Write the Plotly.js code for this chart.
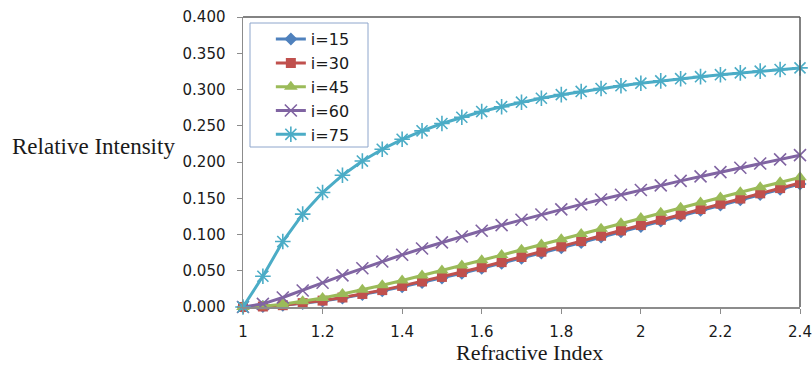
<!DOCTYPE html>
<html>
<head>
<meta charset="utf-8">
<script src="https://cdn.plot.ly/plotly-3.0.1.min.js"></script>
<style>html,body{margin:0;padding:0;background:#fff;}#chart{width:812px;height:365px;}</style>
</head>
<body>
<div id="chart"></div>
<script>
const refractiveIndex = [1.00,1.05,1.10,1.15,1.20,1.25,1.30,1.35,1.40,1.45,1.50,1.55,1.60,1.65,1.70,1.75,1.80,1.85,1.90,1.95,2.00,2.05,2.10,2.15,2.20,2.25,2.30,2.35,2.40];
const seriesNames = ["i=15","i=30","i=45","i=60","i=75"];
const i15 = [0,0.0006,0.0023,0.0049,0.0083,0.0124,0.0171,0.0223,0.0279,0.0338,0.0401,0.0466,0.0533,0.0602,0.0673,0.0745,0.0817,0.0890,0.0964,0.1038,0.1112,0.1186,0.1260,0.1334,0.1407,0.1480,0.1553,0.1625,0.1696];
const i30 = [0,0.0007,0.0025,0.0053,0.0088,0.0131,0.0180,0.0233,0.0291,0.0352,0.0415,0.0482,0.0549,0.0619,0.0690,0.0763,0.0836,0.0909,0.0983,0.1056,0.1130,0.1203,0.1277,0.1351,0.1424,0.1496,0.1568,0.1640,0.1711];
const i45 = [0,0.0011,0.0039,0.0078,0.0125,0.0180,0.0238,0.0300,0.0366,0.0433,0.0502,0.0573,0.0644,0.0716,0.0789,0.0862,0.0935,0.1008,0.1081,0.1154,0.1227,0.1299,0.1370,0.1441,0.1512,0.1582,0.1651,0.1720,0.1788];
const i60 = [0,0.0044,0.0131,0.0228,0.0334,0.0436,0.0534,0.0628,0.0720,0.0807,0.0892,0.0973,0.1052,0.1129,0.1203,0.1276,0.1346,0.1415,0.1483,0.1549,0.1614,0.1677,0.1740,0.1801,0.1861,0.1921,0.1979,0.2037,0.2094];
const i75 = [0,0.0424,0.0903,0.1281,0.1579,0.1818,0.2013,0.2176,0.2313,0.2430,0.2531,0.2617,0.2696,0.2763,0.2825,0.2879,0.2929,0.2973,0.3014,0.3052,0.3087,0.3119,0.3149,0.3177,0.3204,0.3229,0.3253,0.3276,0.3298];
const xTickVals = [1,1.2,1.4,1.6,1.8,2,2.2,2.4];
const xTickText = ["1","1.2","1.4","1.6","1.8","2","2.2","2.4"];
const yTickVals = [0,0.05,0.1,0.15,0.2,0.25,0.3,0.35,0.4];
const yTickText = ["0.000","0.050","0.100","0.150","0.200","0.250","0.300","0.350","0.400"];

const colors = ["#4F81BD","#C0504D","#9BBB59","#8064A2","#4BACC6"];
const symbols = ["diamond","square","triangle-up","x-thin-open","asterisk-open"];
const sizes = [10,10,12,12,13];
const data = [i15,i30,i45,i60,i75];

const traces = data.map((ys, k) => ({
  x: refractiveIndex, y: ys, name: seriesNames[k], type: 'scatter', mode: 'lines+markers',
  legendgroup: 'g'+k, cliponaxis: false,
  line: {color: colors[k], width: 3},
  marker: {symbol: symbols[k], size: sizes[k], color: colors[k],
           line: {color: colors[k], width: (k >= 3 ? 1.6 : 0)}}
}));

const tickFont = {family: '"DejaVu Sans", sans-serif', size: 15, color: '#1a1a1a'};
const layout = {
  width: 812, height: 365,
  margin: {l: 243, r: 12, t: 17, b: 58},
  paper_bgcolor: '#fff', plot_bgcolor: '#fff',
  showlegend: true,
  legend: {x: 0.050, y: 0.982, xanchor: 'left', yanchor: 'top',
    bgcolor: 'rgba(0,0,0,0)', borderwidth: 0,
    font: {family: '"DejaVu Sans", sans-serif', size: 16, color: '#1a1a1a'},
    traceorder: 'grouped', tracegroupgap: 0},
  xaxis: {range: [1, 2.4], tickvals: xTickVals, ticktext: xTickText,
    showgrid: false, zeroline: false, showline: true, linecolor: '#8c8c8c', linewidth: 1.5,
    ticks: 'outside', ticklen: 5, tickcolor: '#8c8c8c', tickfont: tickFont, ticklabelstandoff: 5},
  yaxis: {range: [0, 0.4], tickvals: yTickVals, ticktext: yTickText,
    showgrid: false, zeroline: false, showline: true, linecolor: '#8c8c8c', linewidth: 1.5,
    ticks: 'outside', ticklen: 5, tickcolor: '#8c8c8c', tickfont: tickFont, ticklabelstandoff: 8},
  shapes: [
    {type: 'line', xref: 'paper', yref: 'paper', x0: 0, x1: 1, y0: 1, y1: 1, line: {color: '#5a5a5a', width: 1.5}},
    {type: 'line', xref: 'paper', yref: 'paper', x0: 1, x1: 1, y0: 0, y1: 1, line: {color: '#5a5a5a', width: 1.5}},
    {type: 'rect', xref: 'paper', yref: 'paper', layer: 'above',
     x0: (250-243)/557, x1: (368-243)/557, y0: (307-147)/290, y1: (307-23)/290,
     fillcolor: '#fff', line: {color: '#8EA6CC', width: 1}}
  ],
  annotations: [
    {text: 'Relative Intensity', xref: 'paper', yref: 'paper', x: 0, y: 0.552, xshift: -233,
     xanchor: 'left', yanchor: 'middle', showarrow: false,
     font: {family: '"Liberation Serif", "Times New Roman", serif', size: 23, color: '#1a1a1a'}},
    {text: 'Refractive Index', xref: 'paper', yref: 'paper', x: 0.514, y: 0, yshift: -45,
     xanchor: 'center', yanchor: 'middle', showarrow: false,
     font: {family: '"Liberation Serif", "Times New Roman", serif', size: 22, color: '#1a1a1a'}}
  ]
};
Plotly.newPlot('chart', traces, layout, {displayModeBar: false, staticPlot: true});
</script>
</body>
</html>
